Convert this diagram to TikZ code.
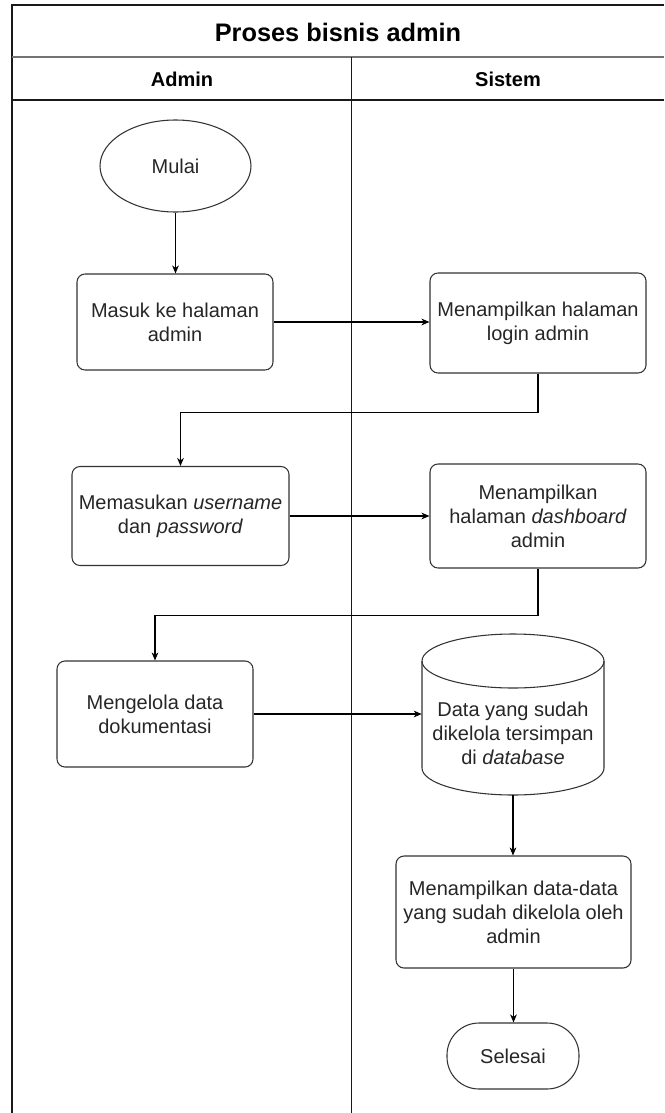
\documentclass[tikz,border=0pt]{standalone}
\usepackage{fontspec}
\setmainfont{Liberation Sans}
\usetikzlibrary{arrows.meta,shapes.geometric}
\begin{document}
\begin{tikzpicture}[x=0.75pt,y=-0.75pt,
  box/.style={draw=black!80, rounded corners=6pt, line width=0.8pt, inner sep=0pt, align=center, font=\fontsize{15}{18}\selectfont, text=black!85},
  frameline/.style={draw=black!90, line width=0.8pt},
  conn/.style={draw=black, line width=0.8pt, -{Stealth[length=6pt,width=5pt,inset=1.8pt]}},
  hdr/.style={font=\bfseries\fontsize{15}{18}\selectfont, inner sep=0pt},
  ttl/.style={font=\bfseries\fontsize{19}{22}\selectfont, inner sep=0pt}
]
\useasboundingbox (0,0) rectangle (664,1113);

% lane frame
\draw[frameline] (664,5) -- (12,5) -- (12,1113);
\draw[draw=black!55, line width=1.5pt] (12,57) -- (664,57);
\draw[frameline] (12,100) -- (664,100);
\draw[frameline] (351.5,57) -- (351.5,1113);

\node[ttl] (title) at (338,32) {Proses bisnis admin};
\node[hdr] (hadmin) at (182,79) {Admin};
\node[hdr] (hsistem) at (508,79) {Sistem};

% nodes
\node[ellipse, draw=black!80, line width=0.8pt, minimum width=113.25pt, minimum height=69pt, inner sep=0pt, font=\fontsize{15}{18}\selectfont, text=black!85] (mulai) at (175.5,166) {Mulai};

\node[box, minimum width=147pt, minimum height=72pt] (b1) at (175,322) {Masuk ke halaman\\admin};
\node[box, minimum width=162pt, minimum height=75pt] (b2) at (538,323) {Menampilkan halaman\\login admin};
\node[box, minimum width=162.75pt, minimum height=74.25pt] (b3) at (180.5,516) {Memasukan \textit{username}\\dan \textit{password}};
\node[box, minimum width=162pt, minimum height=78pt] (b4) at (538,516) {Menampilkan\\halaman \textit{dashboard}\\admin};
\node[box, minimum width=147pt, minimum height=79.5pt] (b5) at (155,714) {Mengelola data\\dokumentasi};

% database cylinder
\node[draw=none, minimum width=136.5pt, minimum height=120.75pt, inner sep=0pt] (db) at (513,714.5) {};
\draw[draw=black!80, line width=0.8pt] (422,661) -- (422,768) arc[start angle=180, end angle=360, x radius=68.25pt, y radius=20.25pt] -- (604,661);
\draw[draw=black!80, line width=0.8pt] (513,661) ellipse [x radius=68.25pt, y radius=20.25pt];
\node[align=center, inner sep=0pt, font=\fontsize{15}{18}\selectfont, text=black!85] (dbt) at (513,733) {Data yang sudah\\dikelola tersimpan\\di \textit{database}};

\node[box, minimum width=176.25pt, minimum height=84pt] (b6) at (513.5,912) {Menampilkan data-data\\yang sudah dikelola oleh\\admin};
\node[box, rounded corners=24pt, minimum width=99pt, minimum height=49.5pt] (selesai) at (513,1056) {Selesai};

% connectors
\draw[conn] (mulai.south) -- (mulai.south |- b1.north);
\draw[conn] (b1.east) -- (b1.east -| b2.west);
\draw[conn] (b2.south) -- ++(0,39) -| (b3.north);
\draw[conn] (b3.east) -- (b3.east -| b4.west);
\draw[conn] (b4.south) -- ++(0,47) -| (b5.north);
\draw[conn] (b5.east) -- (b5.east -| db.west);
\draw[conn] (db.south) -- (db.south |- b6.north);
\draw[conn] (b6.south) -- (b6.south |- selesai.north);
\end{tikzpicture}
\end{document}
